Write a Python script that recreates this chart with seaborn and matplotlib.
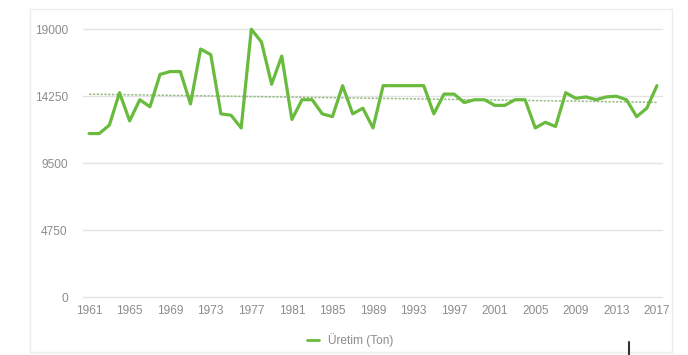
import matplotlib
matplotlib.use("Agg")
import matplotlib.pyplot as plt
from matplotlib.patches import Rectangle
from matplotlib.lines import Line2D
import numpy as np
import pandas as pd
import seaborn as sns

# Annual production (tonnes), 1961-2017
years = list(range(1961, 2018))
production = [
    11600, 11600, 12200, 14500, 12500, 14000, 13500, 15800, 16000, 16000,
    13700, 17600, 17200, 13000, 12900, 12000, 19000, 18100, 15100, 17100,
    12600, 14000, 14000, 13000, 12800, 15000, 13000, 13400, 12000, 15000,
    15000, 15000, 15000, 15000, 13000, 14400, 14400, 13800, 14000, 14000,
    13600, 13600, 14000, 14000, 12000, 12400, 12100, 14500, 14100, 14200,
    14000, 14200, 14250, 14000, 12800, 13400, 15000,
]
y_ticks = [0, 4750, 9500, 14250, 19000]
x_ticks = list(range(1961, 2018, 4))
series_label = "Üretim (Ton)"

df = pd.DataFrame({"Yıl": years, "Üretim": production})

sns.set_theme(style="white")
plt.rcParams["font.family"] = ["Liberation Sans", "DejaVu Sans"]

GREEN = "#68bb3c"
TICK_GRAY = "#8c8c8c"
GRID_GRAY = "#e3e3e3"

fig = plt.figure(figsize=(6.88, 3.55), dpi=100)
W, H = 688, 355
ax = fig.add_axes([83 / W, 1 - 297 / H, (662 - 83) / W, (297 - 29.3) / H])

# light card frame around the chart
fig.add_artist(Rectangle((30 / W, 1 - 352 / H), (672 - 30) / W, (352 - 9) / H,
                         transform=fig.transFigure, fill=False,
                         edgecolor="#ececec", linewidth=1.0))

# linear trend line
sns.regplot(data=df, x="Yıl", y="Üretim", ax=ax, scatter=False, ci=None,
            truncate=True,
            line_kws=dict(color="#98bb86", linewidth=1.1,
                          linestyle=(0, (1.5, 1.0)), zorder=2))

# production series
sns.lineplot(data=df, x="Yıl", y="Üretim", ax=ax, color=GREEN,
             linewidth=2.3, label=series_label, zorder=3, clip_on=False)

ax.set_xlim(1960.4, 2017.5)
ax.set_ylim(0, 19000)
ax.set_yticks(y_ticks)
ax.set_yticklabels([str(v) for v in y_ticks])
ax.set_xticks(x_ticks)
ax.set_xticklabels([str(v) for v in x_ticks])
ax.set_xlabel("")
ax.set_ylabel("")

ax.grid(axis="y", color=GRID_GRAY, linewidth=1.0)
ax.grid(axis="x", visible=False)
for gl in ax.get_ygridlines():
    gl.set_clip_on(False)
for s in ax.spines.values():
    s.set_visible(False)

ax.tick_params(axis="y", length=0, pad=11, labelsize=8.6, labelcolor=TICK_GRAY)
ax.tick_params(axis="x", length=0, pad=6, labelsize=8.6, labelcolor=TICK_GRAY)

leg = ax.legend(loc="center", bbox_to_anchor=(350 / W, 1 - 340 / H),
                bbox_transform=fig.transFigure, frameon=False,
                fontsize=8.6, handlelength=1.0, handletextpad=0.8)
for t in leg.get_texts():
    t.set_color(TICK_GRAY)
for h in leg.get_lines():
    h.set_linewidth(2.0)

# small dark marker at the lower right edge
fig.add_artist(Line2D([629 / W, 629 / W], [0, 1 - 342 / H],
                      transform=fig.transFigure, color="#333333", linewidth=1.5))

fig.savefig("out.png", dpi=100, facecolor="white")
